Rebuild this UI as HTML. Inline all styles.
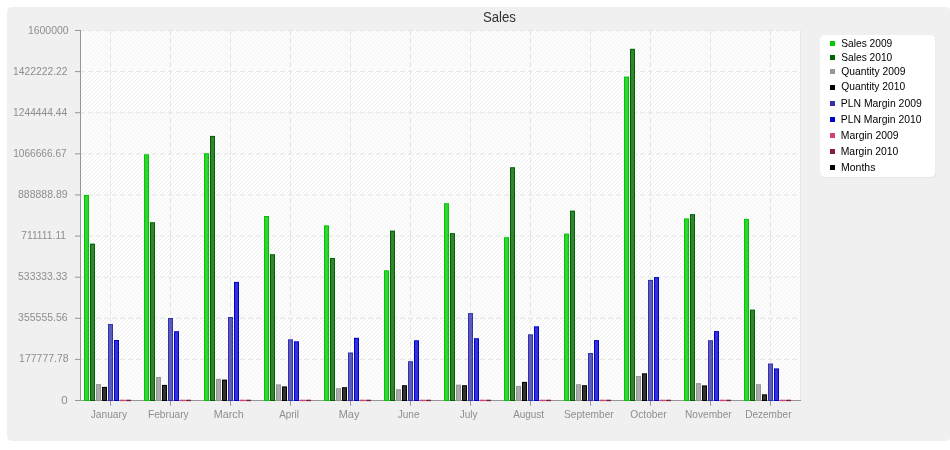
<!DOCTYPE html>
<html lang="en">
<head>
<meta charset="utf-8">
<title>Sales</title>
<style>html,body{margin:0;padding:0;background:#fff;}body{width:950px;height:450px;overflow:hidden;}svg{display:block;}</style>
</head>
<body>
<svg width="950" height="450" viewBox="0 0 950 450" font-family="'Liberation Sans', sans-serif">
<defs><pattern id="hatch" width="4" height="4" patternUnits="userSpaceOnUse" x="0" y="0"><path d="M-1 5 L5 -1 M-1 1 L1 -1 M3 5 L5 3" stroke="#ececec" stroke-width="0.9" fill="none"/></pattern><clipPath id="plot"><rect x="81" y="31" width="719" height="369"/></clipPath></defs>
<rect x="0" y="0" width="950" height="450" fill="#ffffff"/>
<rect x="7" y="7" width="944" height="434" rx="5" ry="5" fill="#f0f0f0"/>
<g shape-rendering="crispEdges">
<rect x="80" y="30" width="721" height="371" fill="#e7e7e7"/>
<rect x="81" y="31" width="719" height="369" fill="#ffffff"/>
<rect x="81" y="30" width="719" height="1" fill="#f5f5f5"/>
<line x1="80" y1="30.5" x2="800" y2="30.5" stroke="#e4e4e4" stroke-width="1" stroke-dasharray="5 3"/>
</g>
<rect x="81" y="31" width="719" height="369" fill="url(#hatch)"/>
<g shape-rendering="crispEdges">
<rect x="81" y="358.89" width="719" height="41.11" fill="#fafafa" fill-opacity="0.5"/>
<rect x="81" y="276.67" width="719" height="41.11" fill="#fafafa" fill-opacity="0.5"/>
<rect x="81" y="194.44" width="719" height="41.11" fill="#fafafa" fill-opacity="0.5"/>
<rect x="81" y="112.22" width="719" height="41.11" fill="#fafafa" fill-opacity="0.5"/>
<rect x="81" y="31.00" width="719" height="40.11" fill="#fafafa" fill-opacity="0.5"/>
</g>
<line x1="80" y1="359.39" x2="800" y2="359.39" stroke="#e4e4e4" stroke-width="1" stroke-dasharray="5 3"/>
<line x1="80" y1="318.28" x2="800" y2="318.28" stroke="#e4e4e4" stroke-width="1" stroke-dasharray="5 3"/>
<line x1="80" y1="277.17" x2="800" y2="277.17" stroke="#e4e4e4" stroke-width="1" stroke-dasharray="5 3"/>
<line x1="80" y1="236.06" x2="800" y2="236.06" stroke="#e4e4e4" stroke-width="1" stroke-dasharray="5 3"/>
<line x1="80" y1="194.94" x2="800" y2="194.94" stroke="#e4e4e4" stroke-width="1" stroke-dasharray="5 3"/>
<line x1="80" y1="153.83" x2="800" y2="153.83" stroke="#e4e4e4" stroke-width="1" stroke-dasharray="5 3"/>
<line x1="80" y1="112.72" x2="800" y2="112.72" stroke="#e4e4e4" stroke-width="1" stroke-dasharray="5 3"/>
<line x1="80" y1="71.61" x2="800" y2="71.61" stroke="#e4e4e4" stroke-width="1" stroke-dasharray="5 3"/>
<g shape-rendering="crispEdges">
<line x1="110.5" y1="30" x2="110.5" y2="400" stroke="#e4e4e4" stroke-width="1" stroke-dasharray="5 3"/>
<line x1="170.5" y1="30" x2="170.5" y2="400" stroke="#e4e4e4" stroke-width="1" stroke-dasharray="5 3"/>
<line x1="230.5" y1="30" x2="230.5" y2="400" stroke="#e4e4e4" stroke-width="1" stroke-dasharray="5 3"/>
<line x1="290.5" y1="30" x2="290.5" y2="400" stroke="#e4e4e4" stroke-width="1" stroke-dasharray="5 3"/>
<line x1="350.5" y1="30" x2="350.5" y2="400" stroke="#e4e4e4" stroke-width="1" stroke-dasharray="5 3"/>
<line x1="410.5" y1="30" x2="410.5" y2="400" stroke="#e4e4e4" stroke-width="1" stroke-dasharray="5 3"/>
<line x1="470.5" y1="30" x2="470.5" y2="400" stroke="#e4e4e4" stroke-width="1" stroke-dasharray="5 3"/>
<line x1="530.5" y1="30" x2="530.5" y2="400" stroke="#e4e4e4" stroke-width="1" stroke-dasharray="5 3"/>
<line x1="590.5" y1="30" x2="590.5" y2="400" stroke="#e4e4e4" stroke-width="1" stroke-dasharray="5 3"/>
<line x1="650.5" y1="30" x2="650.5" y2="400" stroke="#e4e4e4" stroke-width="1" stroke-dasharray="5 3"/>
<line x1="710.5" y1="30" x2="710.5" y2="400" stroke="#e4e4e4" stroke-width="1" stroke-dasharray="5 3"/>
<line x1="770.5" y1="30" x2="770.5" y2="400" stroke="#e4e4e4" stroke-width="1" stroke-dasharray="5 3"/>
<rect x="80" y="30" width="1" height="371" fill="#969696"/>
<rect x="75" y="400" width="726" height="1" fill="#969696"/>
<rect x="75" y="400.00" width="5" height="1" fill="#969696" shape-rendering="auto"/>
<rect x="75" y="358.89" width="5" height="1" fill="#969696" shape-rendering="auto"/>
<rect x="75" y="317.78" width="5" height="1" fill="#969696" shape-rendering="auto"/>
<rect x="75" y="276.67" width="5" height="1" fill="#969696" shape-rendering="auto"/>
<rect x="75" y="235.56" width="5" height="1" fill="#969696" shape-rendering="auto"/>
<rect x="75" y="194.44" width="5" height="1" fill="#969696" shape-rendering="auto"/>
<rect x="75" y="153.33" width="5" height="1" fill="#969696" shape-rendering="auto"/>
<rect x="75" y="112.22" width="5" height="1" fill="#969696" shape-rendering="auto"/>
<rect x="75" y="71.11" width="5" height="1" fill="#969696" shape-rendering="auto"/>
<rect x="75" y="30.00" width="5" height="1" fill="#969696" shape-rendering="auto"/>
<rect x="110" y="400" width="1" height="5.7" fill="#969696" shape-rendering="auto"/>
<rect x="170" y="400" width="1" height="5.7" fill="#969696" shape-rendering="auto"/>
<rect x="230" y="400" width="1" height="5.7" fill="#969696" shape-rendering="auto"/>
<rect x="290" y="400" width="1" height="5.7" fill="#969696" shape-rendering="auto"/>
<rect x="350" y="400" width="1" height="5.7" fill="#969696" shape-rendering="auto"/>
<rect x="410" y="400" width="1" height="5.7" fill="#969696" shape-rendering="auto"/>
<rect x="470" y="400" width="1" height="5.7" fill="#969696" shape-rendering="auto"/>
<rect x="530" y="400" width="1" height="5.7" fill="#969696" shape-rendering="auto"/>
<rect x="590" y="400" width="1" height="5.7" fill="#969696" shape-rendering="auto"/>
<rect x="650" y="400" width="1" height="5.7" fill="#969696" shape-rendering="auto"/>
<rect x="710" y="400" width="1" height="5.7" fill="#969696" shape-rendering="auto"/>
<rect x="770" y="400" width="1" height="5.7" fill="#969696" shape-rendering="auto"/>
<rect x="84" y="195.0" width="5" height="206.0" fill="#00c800" shape-rendering="auto"/>
<rect x="85" y="196.0" width="3" height="204.0" fill="#33d333" shape-rendering="auto"/>
<rect x="90" y="243.6" width="5" height="157.4" fill="#006400" shape-rendering="auto"/>
<rect x="91" y="244.6" width="3" height="155.4" fill="#338333" shape-rendering="auto"/>
<rect x="96" y="384.1" width="5" height="16.9" fill="#969696" shape-rendering="auto"/>
<rect x="97" y="385.1" width="3" height="14.9" fill="#ababab" shape-rendering="auto"/>
<rect x="102" y="386.9" width="5" height="14.1" fill="#000000" shape-rendering="auto"/>
<rect x="103" y="387.9" width="3" height="12.1" fill="#333333" shape-rendering="auto"/>
<rect x="108" y="324.0" width="5" height="77.0" fill="#3232aa" shape-rendering="auto"/>
<rect x="109" y="325.0" width="3" height="75.0" fill="#5b5bbb" shape-rendering="auto"/>
<rect x="114" y="340.0" width="5" height="61.0" fill="#0000cd" shape-rendering="auto"/>
<rect x="115" y="341.0" width="3" height="59.0" fill="#3333d7" shape-rendering="auto"/>
<rect x="120" y="399.7" width="5" height="1.45" fill="#d24274" shape-rendering="auto"/>
<rect x="126" y="399.7" width="5" height="1.45" fill="#861c40" shape-rendering="auto"/>
<rect x="144" y="154.3" width="5" height="246.7" fill="#00c800" shape-rendering="auto"/>
<rect x="145" y="155.3" width="3" height="244.7" fill="#33d333" shape-rendering="auto"/>
<rect x="150" y="222.2" width="5" height="178.8" fill="#006400" shape-rendering="auto"/>
<rect x="151" y="223.2" width="3" height="176.8" fill="#338333" shape-rendering="auto"/>
<rect x="156" y="377.0" width="5" height="24.0" fill="#969696" shape-rendering="auto"/>
<rect x="157" y="378.0" width="3" height="22.0" fill="#ababab" shape-rendering="auto"/>
<rect x="162" y="384.9" width="5" height="16.1" fill="#000000" shape-rendering="auto"/>
<rect x="163" y="385.9" width="3" height="14.1" fill="#333333" shape-rendering="auto"/>
<rect x="168" y="318.0" width="5" height="83.0" fill="#3232aa" shape-rendering="auto"/>
<rect x="169" y="319.0" width="3" height="81.0" fill="#5b5bbb" shape-rendering="auto"/>
<rect x="174" y="331.2" width="5" height="69.8" fill="#0000cd" shape-rendering="auto"/>
<rect x="175" y="332.2" width="3" height="67.8" fill="#3333d7" shape-rendering="auto"/>
<rect x="180" y="399.7" width="5" height="1.45" fill="#d24274" shape-rendering="auto"/>
<rect x="186" y="399.7" width="5" height="1.45" fill="#861c40" shape-rendering="auto"/>
<rect x="204" y="153.2" width="5" height="247.8" fill="#00c800" shape-rendering="auto"/>
<rect x="205" y="154.2" width="3" height="245.8" fill="#33d333" shape-rendering="auto"/>
<rect x="210" y="135.9" width="5" height="265.1" fill="#006400" shape-rendering="auto"/>
<rect x="211" y="136.9" width="3" height="263.1" fill="#338333" shape-rendering="auto"/>
<rect x="216" y="378.8" width="5" height="22.2" fill="#969696" shape-rendering="auto"/>
<rect x="217" y="379.8" width="3" height="20.2" fill="#ababab" shape-rendering="auto"/>
<rect x="222" y="379.6" width="5" height="21.4" fill="#000000" shape-rendering="auto"/>
<rect x="223" y="380.6" width="3" height="19.4" fill="#333333" shape-rendering="auto"/>
<rect x="228" y="317.0" width="5" height="84.0" fill="#3232aa" shape-rendering="auto"/>
<rect x="229" y="318.0" width="3" height="82.0" fill="#5b5bbb" shape-rendering="auto"/>
<rect x="234" y="281.9" width="5" height="119.1" fill="#0000cd" shape-rendering="auto"/>
<rect x="235" y="282.9" width="3" height="117.1" fill="#3333d7" shape-rendering="auto"/>
<rect x="240" y="399.7" width="5" height="1.45" fill="#d24274" shape-rendering="auto"/>
<rect x="246" y="399.7" width="5" height="1.45" fill="#861c40" shape-rendering="auto"/>
<rect x="264" y="216.0" width="5" height="185.0" fill="#00c800" shape-rendering="auto"/>
<rect x="265" y="217.0" width="3" height="183.0" fill="#33d333" shape-rendering="auto"/>
<rect x="270" y="254.2" width="5" height="146.8" fill="#006400" shape-rendering="auto"/>
<rect x="271" y="255.2" width="3" height="144.8" fill="#338333" shape-rendering="auto"/>
<rect x="276" y="384.4" width="5" height="16.6" fill="#969696" shape-rendering="auto"/>
<rect x="277" y="385.4" width="3" height="14.6" fill="#ababab" shape-rendering="auto"/>
<rect x="282" y="386.4" width="5" height="14.6" fill="#000000" shape-rendering="auto"/>
<rect x="283" y="387.4" width="3" height="12.6" fill="#333333" shape-rendering="auto"/>
<rect x="288" y="339.3" width="5" height="61.7" fill="#3232aa" shape-rendering="auto"/>
<rect x="289" y="340.3" width="3" height="59.7" fill="#5b5bbb" shape-rendering="auto"/>
<rect x="294" y="341.3" width="5" height="59.7" fill="#0000cd" shape-rendering="auto"/>
<rect x="295" y="342.3" width="3" height="57.7" fill="#3333d7" shape-rendering="auto"/>
<rect x="300" y="399.7" width="5" height="1.45" fill="#d24274" shape-rendering="auto"/>
<rect x="306" y="399.7" width="5" height="1.45" fill="#861c40" shape-rendering="auto"/>
<rect x="324" y="225.3" width="5" height="175.7" fill="#00c800" shape-rendering="auto"/>
<rect x="325" y="226.3" width="3" height="173.7" fill="#33d333" shape-rendering="auto"/>
<rect x="330" y="258.0" width="5" height="143.0" fill="#006400" shape-rendering="auto"/>
<rect x="331" y="259.0" width="3" height="141.0" fill="#338333" shape-rendering="auto"/>
<rect x="336" y="388.2" width="5" height="12.8" fill="#969696" shape-rendering="auto"/>
<rect x="337" y="389.2" width="3" height="10.8" fill="#ababab" shape-rendering="auto"/>
<rect x="342" y="387.2" width="5" height="13.8" fill="#000000" shape-rendering="auto"/>
<rect x="343" y="388.2" width="3" height="11.8" fill="#333333" shape-rendering="auto"/>
<rect x="348" y="352.5" width="5" height="48.5" fill="#3232aa" shape-rendering="auto"/>
<rect x="349" y="353.5" width="3" height="46.5" fill="#5b5bbb" shape-rendering="auto"/>
<rect x="354" y="337.8" width="5" height="63.2" fill="#0000cd" shape-rendering="auto"/>
<rect x="355" y="338.8" width="3" height="61.2" fill="#3333d7" shape-rendering="auto"/>
<rect x="360" y="399.7" width="5" height="1.45" fill="#d24274" shape-rendering="auto"/>
<rect x="366" y="399.7" width="5" height="1.45" fill="#861c40" shape-rendering="auto"/>
<rect x="384" y="270.3" width="5" height="130.7" fill="#00c800" shape-rendering="auto"/>
<rect x="385" y="271.3" width="3" height="128.7" fill="#33d333" shape-rendering="auto"/>
<rect x="390" y="230.6" width="5" height="170.4" fill="#006400" shape-rendering="auto"/>
<rect x="391" y="231.6" width="3" height="168.4" fill="#338333" shape-rendering="auto"/>
<rect x="396" y="389.2" width="5" height="11.8" fill="#969696" shape-rendering="auto"/>
<rect x="397" y="390.2" width="3" height="9.8" fill="#ababab" shape-rendering="auto"/>
<rect x="402" y="385.2" width="5" height="15.8" fill="#000000" shape-rendering="auto"/>
<rect x="403" y="386.2" width="3" height="13.8" fill="#333333" shape-rendering="auto"/>
<rect x="408" y="361.2" width="5" height="39.8" fill="#3232aa" shape-rendering="auto"/>
<rect x="409" y="362.2" width="3" height="37.8" fill="#5b5bbb" shape-rendering="auto"/>
<rect x="414" y="340.3" width="5" height="60.7" fill="#0000cd" shape-rendering="auto"/>
<rect x="415" y="341.3" width="3" height="58.7" fill="#3333d7" shape-rendering="auto"/>
<rect x="420" y="399.7" width="5" height="1.45" fill="#d24274" shape-rendering="auto"/>
<rect x="426" y="399.7" width="5" height="1.45" fill="#861c40" shape-rendering="auto"/>
<rect x="444" y="203.2" width="5" height="197.8" fill="#00c800" shape-rendering="auto"/>
<rect x="445" y="204.2" width="3" height="195.8" fill="#33d333" shape-rendering="auto"/>
<rect x="450" y="233.1" width="5" height="167.9" fill="#006400" shape-rendering="auto"/>
<rect x="451" y="234.1" width="3" height="165.9" fill="#338333" shape-rendering="auto"/>
<rect x="456" y="384.7" width="5" height="16.3" fill="#969696" shape-rendering="auto"/>
<rect x="457" y="385.7" width="3" height="14.3" fill="#ababab" shape-rendering="auto"/>
<rect x="462" y="385.2" width="5" height="15.8" fill="#000000" shape-rendering="auto"/>
<rect x="463" y="386.2" width="3" height="13.8" fill="#333333" shape-rendering="auto"/>
<rect x="468" y="313.1" width="5" height="87.9" fill="#3232aa" shape-rendering="auto"/>
<rect x="469" y="314.1" width="3" height="85.9" fill="#5b5bbb" shape-rendering="auto"/>
<rect x="474" y="338.2" width="5" height="62.8" fill="#0000cd" shape-rendering="auto"/>
<rect x="475" y="339.2" width="3" height="60.8" fill="#3333d7" shape-rendering="auto"/>
<rect x="480" y="399.7" width="5" height="1.45" fill="#d24274" shape-rendering="auto"/>
<rect x="486" y="399.7" width="5" height="1.45" fill="#861c40" shape-rendering="auto"/>
<rect x="504" y="237.2" width="5" height="163.8" fill="#00c800" shape-rendering="auto"/>
<rect x="505" y="238.2" width="3" height="161.8" fill="#33d333" shape-rendering="auto"/>
<rect x="510" y="167.2" width="5" height="233.8" fill="#006400" shape-rendering="auto"/>
<rect x="511" y="168.2" width="3" height="231.8" fill="#338333" shape-rendering="auto"/>
<rect x="516" y="385.9" width="5" height="15.1" fill="#969696" shape-rendering="auto"/>
<rect x="517" y="386.9" width="3" height="13.1" fill="#ababab" shape-rendering="auto"/>
<rect x="522" y="381.9" width="5" height="19.1" fill="#000000" shape-rendering="auto"/>
<rect x="523" y="382.9" width="3" height="17.1" fill="#333333" shape-rendering="auto"/>
<rect x="528" y="334.3" width="5" height="66.7" fill="#3232aa" shape-rendering="auto"/>
<rect x="529" y="335.3" width="3" height="64.7" fill="#5b5bbb" shape-rendering="auto"/>
<rect x="534" y="326.3" width="5" height="74.7" fill="#0000cd" shape-rendering="auto"/>
<rect x="535" y="327.3" width="3" height="72.7" fill="#3333d7" shape-rendering="auto"/>
<rect x="540" y="399.7" width="5" height="1.45" fill="#d24274" shape-rendering="auto"/>
<rect x="546" y="399.7" width="5" height="1.45" fill="#861c40" shape-rendering="auto"/>
<rect x="564" y="233.6" width="5" height="167.4" fill="#00c800" shape-rendering="auto"/>
<rect x="565" y="234.6" width="3" height="165.4" fill="#33d333" shape-rendering="auto"/>
<rect x="570" y="210.6" width="5" height="190.4" fill="#006400" shape-rendering="auto"/>
<rect x="571" y="211.6" width="3" height="188.4" fill="#338333" shape-rendering="auto"/>
<rect x="576" y="384.2" width="5" height="16.8" fill="#969696" shape-rendering="auto"/>
<rect x="577" y="385.2" width="3" height="14.8" fill="#ababab" shape-rendering="auto"/>
<rect x="582" y="385.2" width="5" height="15.8" fill="#000000" shape-rendering="auto"/>
<rect x="583" y="386.2" width="3" height="13.8" fill="#333333" shape-rendering="auto"/>
<rect x="588" y="353.0" width="5" height="48.0" fill="#3232aa" shape-rendering="auto"/>
<rect x="589" y="354.0" width="3" height="46.0" fill="#5b5bbb" shape-rendering="auto"/>
<rect x="594" y="340.1" width="5" height="60.9" fill="#0000cd" shape-rendering="auto"/>
<rect x="595" y="341.1" width="3" height="58.9" fill="#3333d7" shape-rendering="auto"/>
<rect x="600" y="399.7" width="5" height="1.45" fill="#d24274" shape-rendering="auto"/>
<rect x="606" y="399.7" width="5" height="1.45" fill="#861c40" shape-rendering="auto"/>
<rect x="624" y="76.6" width="5" height="324.4" fill="#00c800" shape-rendering="auto"/>
<rect x="625" y="77.6" width="3" height="322.4" fill="#33d333" shape-rendering="auto"/>
<rect x="630" y="48.8" width="5" height="352.2" fill="#006400" shape-rendering="auto"/>
<rect x="631" y="49.8" width="3" height="350.2" fill="#338333" shape-rendering="auto"/>
<rect x="636" y="376.0" width="5" height="25.0" fill="#969696" shape-rendering="auto"/>
<rect x="637" y="377.0" width="3" height="23.0" fill="#ababab" shape-rendering="auto"/>
<rect x="642" y="373.3" width="5" height="27.7" fill="#000000" shape-rendering="auto"/>
<rect x="643" y="374.3" width="3" height="25.7" fill="#333333" shape-rendering="auto"/>
<rect x="648" y="279.9" width="5" height="121.1" fill="#3232aa" shape-rendering="auto"/>
<rect x="649" y="280.9" width="3" height="119.1" fill="#5b5bbb" shape-rendering="auto"/>
<rect x="654" y="277.1" width="5" height="123.9" fill="#0000cd" shape-rendering="auto"/>
<rect x="655" y="278.1" width="3" height="121.9" fill="#3333d7" shape-rendering="auto"/>
<rect x="660" y="399.7" width="5" height="1.45" fill="#d24274" shape-rendering="auto"/>
<rect x="666" y="399.7" width="5" height="1.45" fill="#861c40" shape-rendering="auto"/>
<rect x="684" y="218.4" width="5" height="182.6" fill="#00c800" shape-rendering="auto"/>
<rect x="685" y="219.4" width="3" height="180.6" fill="#33d333" shape-rendering="auto"/>
<rect x="690" y="214.1" width="5" height="186.9" fill="#006400" shape-rendering="auto"/>
<rect x="691" y="215.1" width="3" height="184.9" fill="#338333" shape-rendering="auto"/>
<rect x="696" y="383.1" width="5" height="17.9" fill="#969696" shape-rendering="auto"/>
<rect x="697" y="384.1" width="3" height="15.9" fill="#ababab" shape-rendering="auto"/>
<rect x="702" y="385.4" width="5" height="15.6" fill="#000000" shape-rendering="auto"/>
<rect x="703" y="386.4" width="3" height="13.6" fill="#333333" shape-rendering="auto"/>
<rect x="708" y="340.2" width="5" height="60.8" fill="#3232aa" shape-rendering="auto"/>
<rect x="709" y="341.2" width="3" height="58.8" fill="#5b5bbb" shape-rendering="auto"/>
<rect x="714" y="331.1" width="5" height="69.9" fill="#0000cd" shape-rendering="auto"/>
<rect x="715" y="332.1" width="3" height="67.9" fill="#3333d7" shape-rendering="auto"/>
<rect x="720" y="399.7" width="5" height="1.45" fill="#d24274" shape-rendering="auto"/>
<rect x="726" y="399.7" width="5" height="1.45" fill="#861c40" shape-rendering="auto"/>
<rect x="744" y="218.9" width="5" height="182.1" fill="#00c800" shape-rendering="auto"/>
<rect x="745" y="219.9" width="3" height="180.1" fill="#33d333" shape-rendering="auto"/>
<rect x="750" y="309.6" width="5" height="91.4" fill="#006400" shape-rendering="auto"/>
<rect x="751" y="310.6" width="3" height="89.4" fill="#338333" shape-rendering="auto"/>
<rect x="756" y="384.2" width="5" height="16.8" fill="#969696" shape-rendering="auto"/>
<rect x="757" y="385.2" width="3" height="14.8" fill="#ababab" shape-rendering="auto"/>
<rect x="762" y="394.3" width="5" height="6.7" fill="#000000" shape-rendering="auto"/>
<rect x="763" y="395.3" width="3" height="4.7" fill="#333333" shape-rendering="auto"/>
<rect x="768" y="363.5" width="5" height="37.5" fill="#3232aa" shape-rendering="auto"/>
<rect x="769" y="364.5" width="3" height="35.5" fill="#5b5bbb" shape-rendering="auto"/>
<rect x="774" y="368.4" width="5" height="32.6" fill="#0000cd" shape-rendering="auto"/>
<rect x="775" y="369.4" width="3" height="30.6" fill="#3333d7" shape-rendering="auto"/>
<rect x="780" y="399.7" width="5" height="1.45" fill="#d24274" shape-rendering="auto"/>
<rect x="786" y="399.7" width="5" height="1.45" fill="#861c40" shape-rendering="auto"/>
</g>
<rect x="821" y="36" width="115.2" height="141.8" rx="5.5" ry="5.5" fill="#e5e5e5"/>
<rect x="820" y="35" width="115.3" height="142" rx="5.5" ry="5.5" fill="#ffffff"/>
<rect x="830" y="41" width="5" height="5" fill="#00c800" shape-rendering="crispEdges"/>
<rect x="830" y="55" width="5" height="5" fill="#006400" shape-rendering="crispEdges"/>
<rect x="830" y="69" width="5" height="5" fill="#969696" shape-rendering="crispEdges"/>
<rect x="830" y="85" width="5" height="5" fill="#000000" shape-rendering="crispEdges"/>
<rect x="830" y="101" width="5" height="5" fill="#3232aa" shape-rendering="crispEdges"/>
<rect x="830" y="117" width="5" height="5" fill="#0000cd" shape-rendering="crispEdges"/>
<rect x="830" y="133" width="5" height="5" fill="#d24274" shape-rendering="crispEdges"/>
<rect x="830" y="149" width="5" height="5" fill="#861c40" shape-rendering="crispEdges"/>
<rect x="830" y="165" width="5" height="5" fill="#000000" shape-rendering="crispEdges"/>
<text x="27.91" y="33.8" font-size="11" fill="#8e8e8e" textLength="40.65" lengthAdjust="spacingAndGlyphs">1600000</text>
<text x="13.08" y="74.8" font-size="11" fill="#8e8e8e" textLength="54.36" lengthAdjust="spacingAndGlyphs">1422222.22</text>
<text x="13.08" y="116.0" font-size="11" fill="#8e8e8e" textLength="54.09" lengthAdjust="spacingAndGlyphs">1244444.44</text>
<text x="13.14" y="156.8" font-size="11" fill="#8e8e8e" textLength="53.59" lengthAdjust="spacingAndGlyphs">1066666.67</text>
<text x="18.00" y="198.0" font-size="11" fill="#8e8e8e" textLength="49.63" lengthAdjust="spacingAndGlyphs">888888.89</text>
<text x="21.23" y="238.8" font-size="11" fill="#8e8e8e" textLength="44.86" lengthAdjust="spacingAndGlyphs">711111.11</text>
<text x="18.03" y="279.8" font-size="11" fill="#8e8e8e" textLength="49.35" lengthAdjust="spacingAndGlyphs">533333.33</text>
<text x="18.10" y="320.8" font-size="11" fill="#8e8e8e" textLength="49.55" lengthAdjust="spacingAndGlyphs">355555.56</text>
<text x="19.10" y="361.8" font-size="11" fill="#8e8e8e" textLength="49.51" lengthAdjust="spacingAndGlyphs">177777.78</text>
<text x="61.38" y="403.8" font-size="11" fill="#8e8e8e" textLength="6.37" lengthAdjust="spacingAndGlyphs">0</text>
<text x="90.66" y="418.0" font-size="11" fill="#8e8e8e" textLength="36.39" lengthAdjust="spacingAndGlyphs">January</text>
<text x="148.03" y="418.0" font-size="11" fill="#8e8e8e" textLength="40.65" lengthAdjust="spacingAndGlyphs">February</text>
<text x="213.68" y="418.0" font-size="11" fill="#8e8e8e" textLength="30.03" lengthAdjust="spacingAndGlyphs">March</text>
<text x="279.19" y="418.0" font-size="11" fill="#8e8e8e" textLength="19.77" lengthAdjust="spacingAndGlyphs">April</text>
<text x="338.72" y="418.0" font-size="11" fill="#8e8e8e" textLength="20.64" lengthAdjust="spacingAndGlyphs">May</text>
<text x="397.64" y="418.0" font-size="11" fill="#8e8e8e" textLength="21.87" lengthAdjust="spacingAndGlyphs">June</text>
<text x="459.79" y="418.0" font-size="11" fill="#8e8e8e" textLength="17.76" lengthAdjust="spacingAndGlyphs">July</text>
<text x="513.14" y="418.0" font-size="11" fill="#8e8e8e" textLength="30.99" lengthAdjust="spacingAndGlyphs">August</text>
<text x="564.00" y="418.0" font-size="11" fill="#8e8e8e" textLength="49.75" lengthAdjust="spacingAndGlyphs">September</text>
<text x="630.32" y="418.0" font-size="11" fill="#8e8e8e" textLength="36.23" lengthAdjust="spacingAndGlyphs">October</text>
<text x="685.04" y="418.0" font-size="11" fill="#8e8e8e" textLength="46.69" lengthAdjust="spacingAndGlyphs">November</text>
<text x="745.13" y="418.0" font-size="11" fill="#8e8e8e" textLength="46.44" lengthAdjust="spacingAndGlyphs">Dezember</text>
<text x="482.90" y="21.9" font-size="14" fill="#323232" textLength="32.97" lengthAdjust="spacingAndGlyphs">Sales</text>
<text x="841.29" y="46.6" font-size="11" fill="#000000" textLength="51.01" lengthAdjust="spacingAndGlyphs">Sales 2009</text>
<text x="841.29" y="60.6" font-size="11" fill="#000000" textLength="51.00" lengthAdjust="spacingAndGlyphs">Sales 2010</text>
<text x="841.29" y="74.5" font-size="11" fill="#000000" textLength="64.13" lengthAdjust="spacingAndGlyphs">Quantity 2009</text>
<text x="841.29" y="90.3" font-size="11" fill="#000000" textLength="63.84" lengthAdjust="spacingAndGlyphs">Quantity 2010</text>
<text x="840.74" y="106.5" font-size="11" fill="#000000" textLength="81.05" lengthAdjust="spacingAndGlyphs">PLN Margin 2009</text>
<text x="840.74" y="122.7" font-size="11" fill="#000000" textLength="80.82" lengthAdjust="spacingAndGlyphs">PLN Margin 2010</text>
<text x="840.75" y="138.7" font-size="11" fill="#000000" textLength="57.79" lengthAdjust="spacingAndGlyphs">Margin 2009</text>
<text x="840.74" y="154.6" font-size="11" fill="#000000" textLength="57.63" lengthAdjust="spacingAndGlyphs">Margin 2010</text>
<text x="840.98" y="170.5" font-size="11" fill="#000000" textLength="34.51" lengthAdjust="spacingAndGlyphs">Months</text>
</svg>
</body>
</html>
